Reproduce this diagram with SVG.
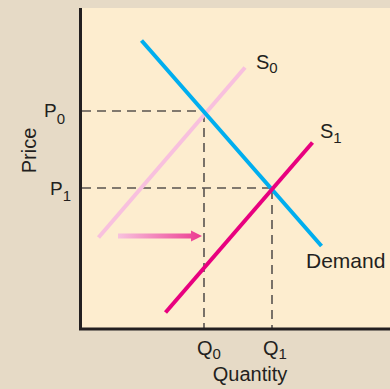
<svg xmlns="http://www.w3.org/2000/svg" width="390" height="389" viewBox="0 0 390 389">
<defs>
<style>
text{font-family:"Liberation Sans",Arial,sans-serif;fill:#231f20;font-size:20px}
.sub{font-size:15px}
.dash{stroke:#58534f;stroke-width:1.6;stroke-dasharray:9,6;fill:none}
.curve{stroke-width:4;fill:none;stroke-linecap:butt}
</style>
<linearGradient id="ag" x1="0" y1="0" x2="1" y2="0">
<stop offset="0" stop-color="#f8c3de"/>
<stop offset="1" stop-color="#ec3a90"/>
</linearGradient>
</defs>
<rect x="0" y="0" width="390" height="389" fill="#e6dac6"/>
<rect x="80" y="8" width="310" height="321" fill="#fdedcf"/>
<g id="connectors">
<line class="dash" x1="82" y1="111" x2="204" y2="111"/>
<line class="dash" x1="204" y1="113" x2="204" y2="328"/>
<line class="dash" x1="82" y1="188" x2="271" y2="188"/>
<line class="dash" x1="272" y1="190" x2="272" y2="328"/>
<line class="curve" x1="98.5" y1="237.5" x2="245" y2="67.5" stroke="#f8c0de"/>
<line class="curve" x1="141.5" y1="40.5" x2="321.5" y2="246" stroke="#00aeef"/>
<line class="curve" x1="165.5" y1="312.5" x2="312.5" y2="142.5" stroke="#e8007f"/>
<path d="M118 233.5 H191 V230.5 L202 236 L191 241.5 V238.5 H118 Z" fill="url(#ag)"/>
</g>
<g id="axes">
<path d="M80.5 8 V329 H390" fill="none" stroke="#231f20" stroke-width="3"/>
</g>
<g id="label-S0"><text x="256" y="69">S<tspan class="sub" dy="4.3">0</tspan></text></g>
<g id="label-S1"><text x="320" y="138">S<tspan class="sub" dy="4.5">1</tspan></text></g>
<g id="label-demand"><text x="306" y="268" style="font-size:21px">Demand</text></g>
<g id="label-P0"><text x="44" y="117" style="font-size:19px">P<tspan class="sub" dy="6.5">0</tspan></text></g>
<g id="label-P1"><text x="50" y="194.5" style="font-size:19px">P<tspan class="sub" dy="6">1</tspan></text></g>
<g id="label-Q0"><text x="197" y="355">Q<tspan class="sub" dy="3.5">0</tspan></text></g>
<g id="label-Q1"><text x="263" y="355">Q<tspan class="sub" dy="3.5">1</tspan></text></g>
<g id="label-quantity"><text x="250" y="381" text-anchor="middle">Quantity</text></g>
<g id="label-price"><text transform="translate(36 150.5) rotate(-90)" text-anchor="middle">Price</text></g>
</svg>
